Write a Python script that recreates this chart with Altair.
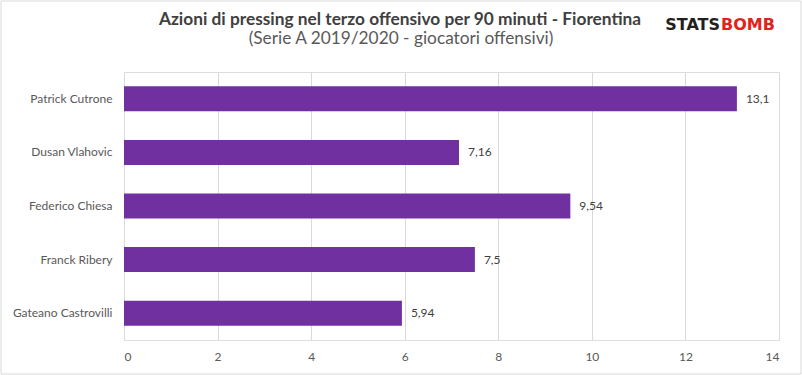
import altair as alt
import pandas as pd

players = ["Patrick Cutrone", "Dusan Vlahovic", "Federico Chiesa", "Franck Ribery", "Gateano Castrovilli"]
values = [13.1, 7.16, 9.54, 7.5, 5.94]
labels = ["13,1", "7,16", "9,54", "7,5", "5,94"]
x_ticks = [0, 2, 4, 6, 8, 10, 12, 14]
title_text = "Azioni di pressing nel terzo offensivo per 90 minuti - Fiorentina"
subtitle_text = "(Serie A 2019/2020 - giocatori offensivi)"

df = pd.DataFrame({"player": players, "value": values, "label": labels})

W, H = 655, 268
LEFT, TOP = 124, 72
FONT = "Lato"

base = alt.Chart(df)

y_enc = alt.Y(
    "player:N",
    sort=players,
    scale=alt.Scale(paddingInner=0.534, paddingOuter=0.267),
    axis=alt.Axis(title=None, ticks=False, domain=False, labelPadding=12,
                  labelFont=FONT, labelFontSize=12, labelColor="#595959"),
)
x_enc = alt.X(
    "value:Q",
    scale=alt.Scale(domain=[0, 14], nice=False),
    axis=alt.Axis(values=x_ticks, title=None, ticks=False, domain=False, grid=True,
                  gridColor="#d9d9d9", gridWidth=1, labelPadding=11,
                  labelFont=FONT, labelFontSize=12, labelColor="#595959"),
)

bars = base.mark_bar(color="#7030A0").encode(x=x_enc, y=y_enc)
text = base.mark_text(align="left", baseline="middle", dx=9, font=FONT, fontSize=12,
                      color="#404040").encode(
    x=alt.X("value:Q"), y=alt.Y("player:N", sort=players), text="label:N")

deco = pd.DataFrame({"a": [0]})
border = alt.Chart(deco).mark_rect(fill="transparent", stroke="#d9d9d9", strokeWidth=1,
                                   clip=False).encode(
    x=alt.value(-LEFT + 1), x2=alt.value(W + 22), y=alt.value(-TOP + 1), y2=alt.value(H + 34))

title = alt.Chart(pd.DataFrame({"t": [title_text]})).mark_text(
    align="center", baseline="alphabetic", font=FONT, fontWeight="bold", fontSize=17.3,
    color="#404040").encode(x=alt.value(400 - LEFT), y=alt.value(25 - TOP), text="t:N")
subtitle = alt.Chart(pd.DataFrame({"t": [subtitle_text]})).mark_text(
    align="center", baseline="alphabetic", font=FONT, fontSize=17.3,
    color="#595959").encode(x=alt.value(401 - LEFT), y=alt.value(44 - TOP), text="t:N")

logo_a = alt.Chart(pd.DataFrame({"t": ["STATS"]})).mark_text(
    align="right", baseline="middle", font="DejaVu Sans", fontWeight="bold", fontSize=16,
    color="#231f20").encode(x=alt.value(720 - LEFT), y=alt.value(25 - TOP), text="t:N")
logo_b = alt.Chart(pd.DataFrame({"t": ["BOMB"]})).mark_text(
    align="left", baseline="middle", font="DejaVu Sans", fontWeight="bold", fontSize=16,
    color="#e2231a").encode(x=alt.value(721 - LEFT), y=alt.value(25 - TOP), text="t:N")

chart = alt.layer(border, bars, text, title, subtitle, logo_a, logo_b).properties(
    width=W,
    height=H,
    autosize=alt.AutoSizeParams(type="none"),
    padding={"left": LEFT, "top": TOP, "right": 802 - LEFT - W, "bottom": 375 - TOP - H},
).configure_view(stroke=None).configure(background="white")

chart.save("out.html", embed_options={"renderer": "svg", "actions": False})
